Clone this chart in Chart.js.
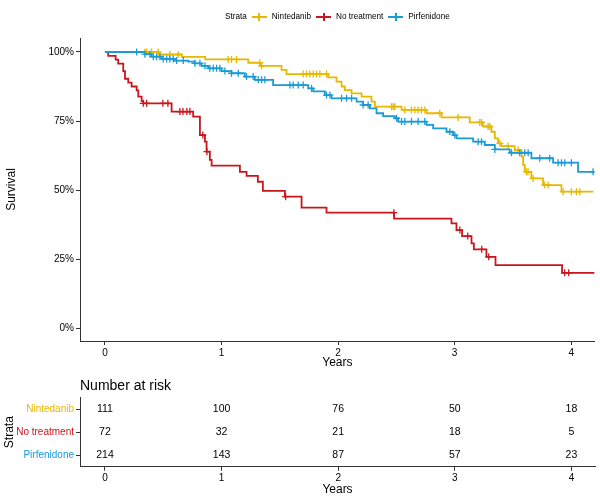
<!DOCTYPE html>
<html>
<head>
<meta charset="utf-8">
<script src="https://cdn.jsdelivr.net/npm/chart.js@4/dist/chart.umd.min.js"></script>
<style>
  body { margin: 0; background: #fff; }
  #wrap { position: relative; width: 600px; height: 500px; font-family: "Liberation Sans", Arial, sans-serif; }
  #survival { position: absolute; left: 0; top: 0; }
  #risk { position: absolute; left: 0; top: 370px; }
  #legend { position: absolute; left: 225px; top: 12px; display: flex; align-items: center; font-size: 8.2px; color: #000; white-space: nowrap; }
  .key { position: relative; width: 15px; height: 2px; margin: 0 5px; }
  .key::after { content: ''; position: absolute; left: 6.5px; top: -3px; width: 2px; height: 8px; background: inherit; }
</style>
</head>
<body>
<div id="wrap">
  <canvas id="survival" width="600" height="370"></canvas>
  <canvas id="risk" width="600" height="130"></canvas>
  <div id="legend"></div>
</div>
<script>
// Curvas Kaplan-Meier (tiempo en años, supervivencia en fracción)
const strata = ['Nintedanib', 'No treatment', 'Pirfenidone'];
const years = [0, 1, 2, 3, 4];
const survTicks = [0, 0.25, 0.5, 0.75, 1];

const ninTime = [0, 0.46, 0.66, 0.86, 1.23, 1.33, 1.515, 1.558, 1.915, 1.987, 2.03, 2.058, 2.116, 2.202, 2.287, 2.316, 2.545, 2.759, 2.888, 3.13, 3.244, 3.316, 3.345, 3.373, 3.402, 3.516, 3.574, 3.588, 3.602, 3.659, 3.759, 3.917, 4.19];
const ninSurv = [1, 0.991, 0.982, 0.973, 0.961, 0.950, 0.935, 0.920, 0.908, 0.893, 0.875, 0.862, 0.850, 0.838, 0.820, 0.802, 0.790, 0.778, 0.763, 0.745, 0.730, 0.711, 0.687, 0.669, 0.659, 0.645, 0.621, 0.591, 0.566, 0.542, 0.518, 0.494, 0.494];
const ninCensor = [0.343, 0.358, 0.4, 0.457, 0.557, 0.629, 1.057, 1.086, 1.129, 1.329, 1.344, 1.701, 1.73, 1.758, 1.787, 1.815, 1.844, 1.901, 2.459, 2.473, 2.487, 2.573, 2.63, 2.659, 2.687, 2.716, 2.744, 2.873, 3.03, 3.216, 3.231, 3.287, 3.302, 3.388, 3.459, 3.545, 3.616, 3.63, 3.673, 3.774, 3.802, 3.931, 4.002, 4.045, 4.074];

const noTime = [0, 0.028, 0.092, 0.114, 0.157, 0.172, 0.2, 0.229, 0.272, 0.286, 0.315, 0.329, 0.572, 0.757, 0.815, 0.858, 0.872, 0.9, 0.915, 1.158, 1.215, 1.312, 1.355, 1.544, 1.687, 1.901, 2.481, 2.973, 3.016, 3.064, 3.145, 3.165, 3.273, 3.351, 3.922, 4.2];
const noSurv = [1, 0.986, 0.972, 0.958, 0.931, 0.903, 0.889, 0.875, 0.861, 0.838, 0.822, 0.814, 0.784, 0.766, 0.699, 0.675, 0.639, 0.609, 0.588, 0.566, 0.551, 0.530, 0.497, 0.476, 0.436, 0.418, 0.396, 0.379, 0.355, 0.333, 0.307, 0.285, 0.258, 0.228, 0.200, 0.200];
const noCensor = [0.329, 0.358, 0.497, 0.54, 0.643, 0.669, 0.703, 0.729, 0.84, 0.875, 1.55, 2.479, 3.045, 3.113, 3.233, 3.293, 3.945, 3.979];

const pirTime = [0, 0.343, 0.4, 0.486, 0.6, 0.715, 0.772, 0.829, 0.886, 1.0, 1.086, 1.2, 1.286, 1.443, 1.744, 1.787, 1.887, 1.944, 2.159, 2.215, 2.273, 2.33, 2.387, 2.487, 2.516, 2.759, 2.816, 2.93, 2.987, 3.016, 3.159, 3.259, 3.345, 3.473, 3.659, 3.845, 4.059, 4.2];
const pirSurv = [1, 0.992, 0.983, 0.975, 0.969, 0.965, 0.959, 0.950, 0.941, 0.931, 0.923, 0.911, 0.899, 0.880, 0.868, 0.857, 0.844, 0.832, 0.820, 0.808, 0.796, 0.778, 0.768, 0.760, 0.748, 0.736, 0.723, 0.711, 0.699, 0.687, 0.675, 0.663, 0.647, 0.635, 0.615, 0.599, 0.566, 0.566];
const pirCensor = [0.272, 0.343, 0.386, 0.415, 0.443, 0.472, 0.5, 0.529, 0.557, 0.586, 0.615, 0.672, 0.772, 0.815, 0.858, 0.9, 0.929, 0.958, 0.986, 1.029, 1.086, 1.144, 1.215, 1.272, 1.315, 1.344, 1.372, 1.587, 1.615, 1.658, 1.701, 1.773, 1.901, 1.93, 2.03, 2.073, 2.116, 2.215, 2.258, 2.502, 2.545, 2.573, 2.63, 2.687, 2.744, 2.959, 3.002, 3.202, 3.231, 3.345, 3.488, 3.559, 3.602, 3.631, 3.731, 3.816, 3.888, 3.917, 3.945, 4.002, 4.188];

// Número en riesgo por año
const ninRisk = [111, 100, 76, 50, 18];
const noRisk = [72, 32, 21, 18, 5];
const pirRisk = [214, 143, 87, 57, 23];

const COLORS = {
    yellow: '#E7B800',
    red: '#C8161D',
    blue: '#1A9BD7',
    axis: '#333333',
    ink: '#000000',
};
const FONT = '"Liberation Sans", Arial, sans-serif';
const strataColors = [COLORS.yellow, COLORS.red, COLORS.blue];
const X_MIN = -0.214, X_MAX = 4.202;

function stepAt(times, surv, t) {
    let s = surv[0];
    for (let i = 0; i < times.length; i++) if (times[i] <= t) s = surv[i];
    return s;
}

function curve(times, surv, color, order) {
    return {
        type: 'line',
        data: times.map((t, i) => ({ x: t, y: surv[i] })),
        borderColor: color,
        borderWidth: 1.8,
        stepped: true,
        pointRadius: 0,
        fill: false,
        order,
    };
}

function censors(times, surv, censorTimes, color, order) {
    return {
        type: 'scatter',
        data: censorTimes.map((t) => ({ x: t, y: stepAt(times, surv, t) })),
        pointStyle: 'cross',
        pointRadius: 3.5,
        borderColor: color,
        borderWidth: 1.3,
        order,
    };
}

function xAxis(height, titlePadBottom) {
    return {
        type: 'linear', min: X_MIN, max: X_MAX,
        afterBuildTicks: (s) => { s.ticks = years.map((v) => ({ value: v })); },
        afterFit: (s) => { s.height = height; },
        grid: { drawOnChartArea: false, color: COLORS.axis, tickLength: 4 },
        border: { color: COLORS.axis, width: 1 },
        ticks: { color: COLORS.ink, padding: 2, font: { family: FONT, size: 10 } },
        title: { display: true, text: 'Years', color: COLORS.ink, padding: { top: 0, bottom: titlePadBottom }, font: { family: FONT, size: 12 } },
    };
}

// Leyenda superior (estilo ggplot)
const legendEl = document.getElementById('legend');
legendEl.innerHTML = '<span>Strata</span>' + strata.map((name, i) =>
    `<span class="key" style="background:${strataColors[i]}"></span><span>${name}</span>`).join('');

new Chart(document.getElementById('survival'), {
    type: 'scatter',
    data: {
        datasets: [
            censors(pirTime, pirSurv, pirCensor, COLORS.blue, 0),
            curve(pirTime, pirSurv, COLORS.blue, 1),
            censors(noTime, noSurv, noCensor, COLORS.red, 2),
            curve(noTime, noSurv, COLORS.red, 3),
            censors(ninTime, ninSurv, ninCensor, COLORS.yellow, 4),
            curve(ninTime, ninSurv, COLORS.yellow, 5),
        ],
    },
    options: {
        responsive: false,
        animation: false,
        layout: { padding: { top: 38, right: 5, left: 0, bottom: 0 } },
        plugins: { legend: { display: false }, tooltip: { enabled: false } },
        scales: {
            x: xAxis(29, 0),
            y: {
                type: 'linear', min: -0.047, max: 1.0507,
                afterBuildTicks: (s) => { s.ticks = survTicks.map((v) => ({ value: v })); },
                afterFit: (s) => { s.width = 80; },
                grid: { drawOnChartArea: false, color: COLORS.axis, tickLength: 4 },
                border: { color: COLORS.axis, width: 1 },
                ticks: { color: COLORS.ink, padding: 2, font: { family: FONT, size: 10 }, callback: (v) => Math.round(v * 100) + '%' },
                title: { display: true, text: 'Survival', color: COLORS.ink, padding: { top: 4.8, bottom: 0 }, font: { family: FONT, size: 12 } },
            },
        },
    },
});

// Tabla de número en riesgo: los textos se dibujan en la posición de cada punto
const riskText = {
    id: 'riskText',
    afterDatasetsDraw(chart) {
        const { ctx } = chart;
        ctx.save();
        ctx.font = `10.5px ${FONT}`;
        ctx.fillStyle = COLORS.ink;
        ctx.textAlign = 'center';
        ctx.textBaseline = 'middle';
        chart.data.datasets.forEach((ds, i) => {
            chart.getDatasetMeta(i).data.forEach((pt, j) => ctx.fillText(String(ds.data[j].n), pt.x, pt.y));
        });
        ctx.restore();
    },
};

const riskRows = [ninRisk, noRisk, pirRisk];
new Chart(document.getElementById('risk'), {
    type: 'scatter',
    data: {
        datasets: riskRows.map((row, i) => ({
            data: row.map((n, j) => ({ x: years[j], y: strata[i], n })),
            pointRadius: 0,
        })),
    },
    options: {
        responsive: false,
        animation: false,
        layout: { padding: { top: 0, right: 5, left: 0, bottom: 0 } },
        plugins: {
            legend: { display: false },
            tooltip: { enabled: false },
            title: {
                display: true, text: 'Number at risk', align: 'start', fullSize: false,
                color: COLORS.ink, padding: { top: 7.6, bottom: 3.3 },
                font: { family: FONT, size: 14, weight: 'normal' },
            },
        },
        scales: {
            x: xAxis(33.3, 2.8),
            y: {
                type: 'category', labels: strata, offset: true,
                afterFit: (s) => { s.width = 80; },
                grid: { drawOnChartArea: false, color: COLORS.axis, tickLength: 4, offset: false },
                border: { color: COLORS.axis, width: 1 },
                ticks: { color: (c) => strataColors[c.index], padding: 2, font: { family: FONT, size: 10 } },
                title: { display: true, text: 'Strata', color: COLORS.ink, padding: { top: 2.8, bottom: 0 }, font: { family: FONT, size: 12 } },
            },
        },
    },
    plugins: [riskText],
});
</script>
</body>
</html>
